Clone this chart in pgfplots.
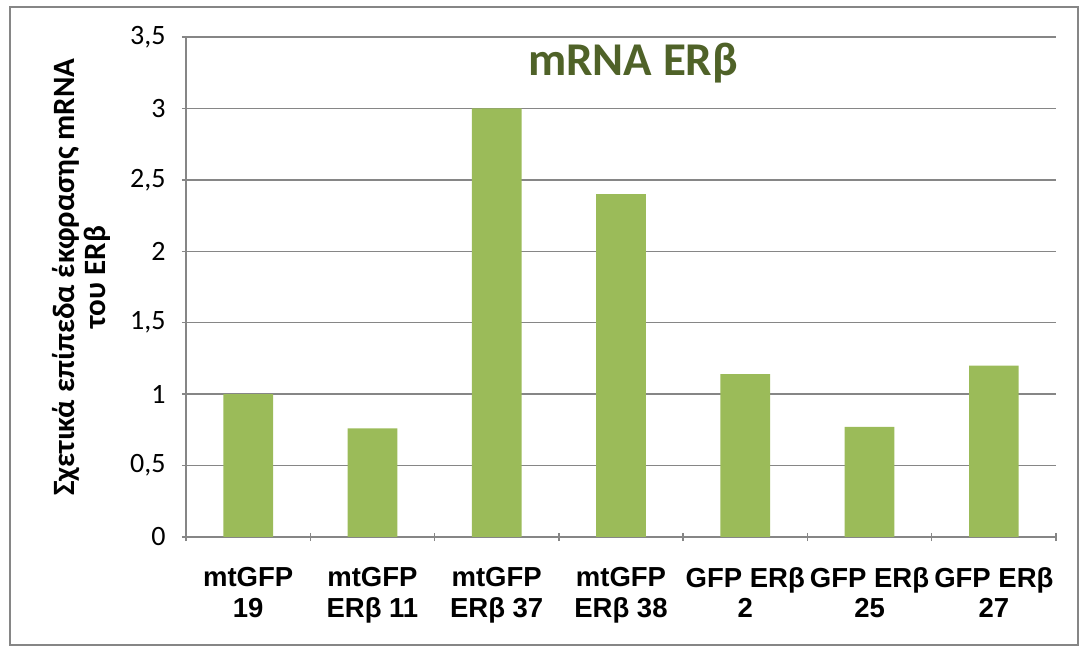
\documentclass[border=0pt]{standalone}
\usepackage{fontspec}
\setmainfont{Liberation Sans}
\newfontfamily\calibri{Carlito}
\usepackage{pgfplots}
\pgfplotsset{compat=1.18}
\definecolor{barc}{HTML}{9BBB59}
\definecolor{gridc}{HTML}{868686}
\definecolor{ttl}{HTML}{4F6228}
\begin{document}
\begin{tikzpicture}[x=1pt,y=1pt]
\useasboundingbox (0,0) rectangle (1087,653);
\draw[gridc, line width=1.3pt] (10,8) rectangle (1078,646);
\begin{axis}[
  at={(186pt,116pt)}, anchor=south west,
  scale only axis, width=870pt, height=500pt,
  ymin=0, ymax=3.5, ytick={0,0.5,1,1.5,2,2.5,3,3.5},
  xmin=-0.5, xmax=6.5, xtick={0,1,2,3,4,5,6},
  xticklabels={{mtGFP\\19},{mtGFP\\ERβ 11},{mtGFP\\ERβ 37},{mtGFP\\ERβ 38},{GFP ERβ\\2},{GFP ERβ\\25},{GFP ERβ\\27}},
  minor xtick={-0.5,0.5,1.5,2.5,3.5,4.5,5.5,6.5},
  every major x tick/.append style={draw=none},
  major tick length=8pt, minor tick length=8pt,
  tick align=outside,
  tick style={gridc, line width=1.3pt},
  axis x line=bottom, axis y line=left,
  axis line style={-, gridc, line width=1.3pt},
  ymajorgrids, grid style={gridc, line width=1.3pt},
  xticklabel style={align=center, font=\bfseries\fontsize{27.5}{30.5}\selectfont, yshift=-23pt},
  yticklabel style={/pgf/number format/.cd, use comma, fixed, assume math mode=true, /tikz/.cd, font=\calibri\fontsize{28}{28}\selectfont, xshift=-13pt},
  title={mRNA ERβ},
  title style={at={(0.514,0.91)}, anchor=base, font=\calibri\bfseries\fontsize{47}{47}\selectfont, text=ttl},
  ylabel={Σχετικά επίπεδα έκφρασης mRNA\\του ERβ},
  ylabel style={at={(axis description cs:-0.12,0.52)}, anchor=center, align=center, font=\calibri\bfseries\fontsize{31}{31}\selectfont},
]
\addplot[ybar, fill=barc, draw=none, bar width=0.4] coordinates {(0,1) (1,0.76) (2,3.0) (3,2.4) (4,1.14) (5,0.77) (6,1.2)};
\end{axis}
\end{tikzpicture}
\end{document}
